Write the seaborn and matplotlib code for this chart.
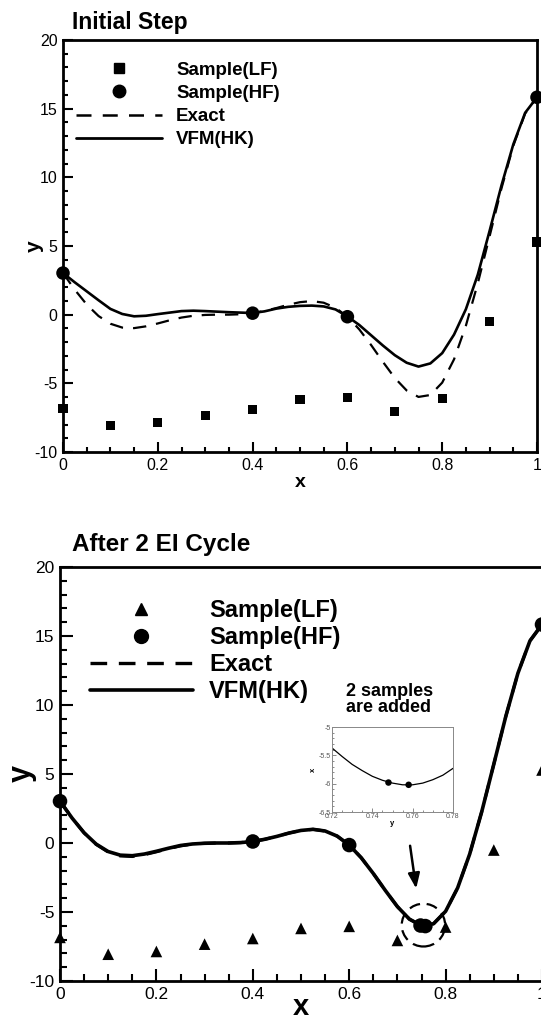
import numpy as np
import pandas as pd
import matplotlib
matplotlib.use("Agg")
import matplotlib.pyplot as plt
from matplotlib.lines import Line2D
from matplotlib.patches import Ellipse
from matplotlib.ticker import MultipleLocator
import seaborn as sns

sns.set_style("ticks")
plt.rcParams['font.family'] = ['Liberation Sans', 'DejaVu Sans']
plt.rcParams['axes.unicode_minus'] = False
plt.rcParams['text.color'] = 'black'
plt.rcParams['axes.labelcolor'] = 'black'

x_grid = [0.0, 0.025, 0.05, 0.075, 0.1, 0.125, 0.15, 0.175, 0.2, 0.225,
          0.25, 0.275, 0.3, 0.325, 0.35, 0.375, 0.4, 0.425, 0.45, 0.475,
          0.5, 0.525, 0.55, 0.575, 0.6, 0.625, 0.65, 0.675, 0.7, 0.725,
          0.75, 0.775, 0.8, 0.825, 0.85, 0.875, 0.9, 0.925, 0.95, 0.975, 1.0]
exact_y = [3.03, 1.81, 0.74, -0.10, -0.66, -0.94, -0.98, -0.85, -0.64, -0.41,
           -0.21, -0.08, -0.02, 0.00, 0.00, 0.03, 0.11, 0.27, 0.48, 0.72,
           0.91, 0.99, 0.87, 0.50, -0.15, -1.07, -2.21, -3.44, -4.61, -5.52,
           -5.99, -5.85, -4.95, -3.25, -0.80, 2.27, 5.71, 9.19, 12.30, 14.65, 15.83]
vfm_init = [3.03, 2.35, 1.70, 1.05, 0.42, 0.05, -0.12, -0.08, 0.04, 0.15,
            0.26, 0.29, 0.26, 0.22, 0.18, 0.15, 0.12, 0.24, 0.44, 0.57,
            0.64, 0.66, 0.60, 0.38, -0.13, -0.75, -1.50, -2.25, -2.95, -3.50,
            -3.78, -3.55, -2.80, -1.45, 0.40, 2.90, 6.10, 9.40, 12.40, 14.70, 15.83]
vfm_cycle2 = [3.03, 1.81, 0.74, -0.08, -0.62, -0.88, -0.92, -0.80, -0.60, -0.38,
              -0.18, -0.07, -0.02, 0.00, 0.00, 0.03, 0.11, 0.27, 0.48, 0.72,
              0.91, 0.99, 0.87, 0.50, -0.15, -1.07, -2.21, -3.44, -4.61, -5.52,
              -5.99, -5.85, -4.95, -3.25, -0.80, 2.27, 5.71, 9.19, 12.30, 14.65, 15.83]

# samples
lf_x = [0.0, 0.1, 0.2, 0.3, 0.4, 0.5, 0.6, 0.7, 0.8, 0.9, 1.0]
lf_y = [-6.84, -8.06, -7.86, -7.33, -6.92, -6.19, -6.04, -7.06, -6.09, -0.51, 5.29]
hf_x_init = [0.0, 0.4, 0.6, 1.0]
hf_y_init = [3.03, 0.11, -0.15, 15.83]
hf_x_cycle2 = [0.0, 0.4, 0.6, 0.748, 0.758, 1.0]
hf_y_cycle2 = [3.03, 0.11, -0.15, -5.98, -6.02, 15.83]

# zoomed view near the minimum
zoom_x = [0.72, 0.725, 0.73, 0.735, 0.74, 0.745, 0.75, 0.755, 0.76, 0.765, 0.77, 0.775, 0.78]
zoom_y = [-5.37, -5.52, -5.66, -5.77, -5.87, -5.94, -5.99, -6.02, -6.02, -5.99, -5.93, -5.85, -5.73]
zoom_hf_x = [0.748, 0.758]
zoom_hf_y = [-5.98, -6.02]

W, H = 541, 1025
fig = plt.figure(figsize=(W / 100, H / 100), dpi=100)


def frame(ax, tick_fs, major_len):
    ax.set_xlim(0, 1)
    ax.set_ylim(-10, 20)
    ax.xaxis.set_minor_locator(MultipleLocator(0.05))
    ax.yaxis.set_major_locator(MultipleLocator(5))
    ax.yaxis.set_minor_locator(MultipleLocator(1))
    ax.set_xticks([0, 0.2, 0.4, 0.6, 0.8, 1.0])
    ax.set_xticklabels(['0', '0.2', '0.4', '0.6', '0.8', '1'])
    ax.tick_params(which='both', direction='in', width=1.5, colors='black',
                   labelsize=tick_fs, top=False, right=False)
    ax.tick_params(which='major', length=major_len, pad=4)
    ax.tick_params(which='minor', length=major_len * 0.55)
    for s in ax.spines.values():
        s.set_linewidth(2)
        s.set_color('black')
        s.set_visible(True)


# ---------- top: initial step ----------
ax1 = fig.add_axes([63 / W, 1 - 452 / H, 474 / W, 412 / H])
sns.lineplot(x=x_grid, y=exact_y, ax=ax1, color='black', lw=1.6,
             linestyle=(0, (6, 4.5)))
sns.lineplot(x=x_grid, y=vfm_init, ax=ax1, color='black', lw=1.9)
sns.scatterplot(x=lf_x, y=lf_y, ax=ax1, marker='s', s=45, color='black',
                edgecolor='none', clip_on=False, zorder=5)
sns.scatterplot(x=hf_x_init, y=hf_y_init, ax=ax1, marker='o', s=95, color='black',
                edgecolor='none', clip_on=False, zorder=5)
frame(ax1, 11.5, 7)
ax1.set_xlabel('x', fontsize=14, fontweight='bold', labelpad=1)
ax1.set_ylabel('y', fontsize=15, fontweight='bold', labelpad=-7)
fig.text(72 / W, 1 - 22 / H, 'Initial Step', fontsize=16.5, fontweight='bold',
         ha='left', va='center')

h1 = [Line2D([], [], ls='none', marker='s', ms=6.5, color='black'),
      Line2D([], [], ls='none', marker='o', ms=9, color='black'),
      Line2D([], [], color='black', lw=1.8, linestyle=(0, (6, 4.5))),
      Line2D([], [], color='black', lw=2.0)]
ax1.legend(h1, ['Sample(LF)', 'Sample(HF)', 'Exact', 'VFM(HK)'],
           loc='upper left', bbox_to_anchor=(0.027, 0.948), frameon=False,
           prop=dict(weight='bold', size=13.5), handlelength=4.6,
           handletextpad=0.75, labelspacing=0.33, borderpad=0, borderaxespad=0)

# ---------- bottom: after 2 EI cycles ----------
ax2 = fig.add_axes([60 / W, 1 - 981 / H, 482 / W, 414 / H])
sns.lineplot(x=x_grid, y=exact_y, ax=ax2, color='black', lw=2.2,
             linestyle=(0, (5, 4)))
sns.lineplot(x=x_grid, y=vfm_cycle2, ax=ax2, color='black', lw=2.6)
sns.scatterplot(x=lf_x, y=lf_y, ax=ax2, marker='^', s=70, color='black',
                edgecolor='none', clip_on=False, zorder=5)
sns.scatterplot(x=hf_x_cycle2, y=hf_y_cycle2, ax=ax2, marker='o', s=110, color='black',
                edgecolor='none', clip_on=False, zorder=5)
frame(ax2, 12.5, 9)
ax2.set_xlabel('x', fontsize=21, fontweight='bold', labelpad=-6)
ax2.set_ylabel('y', fontsize=22, fontweight='bold', labelpad=-5)
fig.text(72 / W, 1 - 545 / H, 'After 2 EI Cycle', fontsize=17.5, fontweight='bold',
         ha='left', va='center')

h2 = [Line2D([], [], ls='none', marker='^', ms=8, color='black'),
      Line2D([], [], ls='none', marker='o', ms=10, color='black'),
      Line2D([], [], color='black', lw=2.4, linestyle=(0, (5, 3.5))),
      Line2D([], [], color='black', lw=2.6)]
ax2.legend(h2, ['Sample(LF)', 'Sample(HF)', 'Exact', 'VFM(HK)'],
           loc='upper left', bbox_to_anchor=(0.062, 0.922), frameon=False,
           prop=dict(weight='bold', size=17), handlelength=4.35,
           handletextpad=0.7, labelspacing=0.17, borderpad=0, borderaxespad=0)

ax2.text(0.593, 10.4, '2 samples\nare added', fontsize=13, fontweight='bold',
         ha='left', va='center', linespacing=0.95)
ax2.add_patch(Ellipse((0.754, -5.95), width=0.09, height=3.1, fill=False,
                      color='black', lw=1.6, linestyle=(0, (5, 3))))
ax2.annotate('', xy=(0.7398, -3.5), xytext=(0.7255, 0.0),
             arrowprops=dict(arrowstyle='-|>,head_length=0.9,head_width=0.35',
                             color='black', lw=1.8))

# ---------- inset ----------
axi = fig.add_axes([332 / W, 1 - 812 / H, 121 / W, 85 / H])
sns.lineplot(x=zoom_x, y=zoom_y, ax=axi, color='black', lw=0.9)
sns.scatterplot(x=zoom_hf_x, y=zoom_hf_y, ax=axi, marker='o', s=22, color='black',
                edgecolor='none', zorder=5)
axi.set_xlim(0.72, 0.78)
axi.set_ylim(-6.5, -5)
axi.xaxis.set_minor_locator(MultipleLocator(0.005))
axi.yaxis.set_minor_locator(MultipleLocator(0.1))
axi.set_xticks([0.72, 0.74, 0.76, 0.78])
axi.set_xticklabels(['0.72', '0.74', '0.76', '0.78'])
axi.set_yticks([-6.5, -6, -5.5, -5])
axi.set_yticklabels(['-6.5', '-6', '-5.5', '-5'])
axi.tick_params(which='both', direction='in', width=0.6, colors='#777777',
                labelsize=5, labelcolor='#555555', pad=1, top=False, right=False)
axi.tick_params(which='major', length=3)
axi.tick_params(which='minor', length=1.5)
axi.set_xlabel('y', fontsize=5.5, fontweight='bold', labelpad=0)
axi.set_ylabel('x', fontsize=5.5, fontweight='bold', labelpad=1)
for s in axi.spines.values():
    s.set_linewidth(0.7)
    s.set_color('#888888')
    s.set_visible(True)

fig.savefig('out.png', dpi=100)
